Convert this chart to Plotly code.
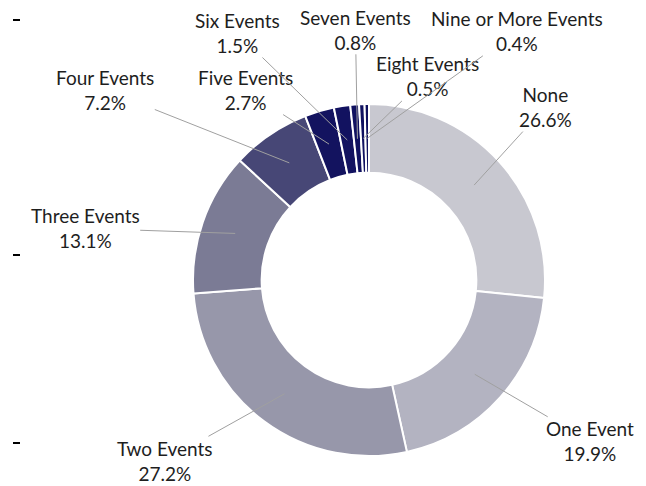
import math
import plotly.graph_objects as go

# events per person, share of respondents (%)
labels = ['None', 'One Event', 'Two Events', 'Three Events', 'Four Events',
          'Five Events', 'Six Events', 'Seven Events', 'Eight Events',
          'Nine or More Events']
shares = [26.6, 19.9, 27.2, 13.1, 7.2, 2.7, 1.5, 0.8, 0.5, 0.4]
colors = ['#C8C8D0', '#B3B3C1', '#9797AA', '#7B7B95', '#474776',
          '#13135F', '#121260', '#101160', '#101160', '#10115E']

# label offsets from the slice midpoint (px), tuned by eye
label_dx = [71, 115, -120, -150, -184, -84, -110, -2, 64, 150]
label_dy = [-78, 67, 67, -5, -73, -54, -107, -109, -62, -107]

# page has an 8px body margin, so the figure is shifted by that much
OFF = 8
W, H = 646 - OFF, 486 - OFF
cx, cy = 369 - OFF, 280 - OFF   # donut centre in px
r_out, hole = 176, 0.61
r_mid = r_out * (1 + hole) / 2

fig = go.Figure()
fig.add_trace(go.Pie(
    labels=labels, values=shares, sort=False, direction='clockwise',
    rotation=0, hole=hole, textinfo='none', hoverinfo='label+percent',
    marker=dict(colors=colors, line=dict(color='white', width=2)),
    domain=dict(x=[(cx - r_out) / W, (cx + r_out) / W],
                y=[1 - (cy + r_out) / H, 1 - (cy - r_out) / H]),
    showlegend=False,
))

# invisible trace so the left axis ticks get drawn
fig.add_trace(go.Scatter(x=[0], y=[0], mode='markers',
                         marker=dict(opacity=0), hoverinfo='skip',
                         showlegend=False))

total = sum(shares)
cum = 0
annotations = []
for lab, val, dx, dy in zip(labels, shares, label_dx, label_dy):
    mid = (cum + val / 2) / total * 2 * math.pi
    cum += val
    px_x = cx + r_mid * math.sin(mid)
    px_y = cy - r_mid * math.cos(mid)
    annotations.append(dict(
        x=px_x / W, y=1 - px_y / H, xref='paper', yref='paper',
        text=f'{lab}<br>{val:.1f}%', showarrow=True, arrowhead=0,
        arrowwidth=1, arrowcolor='#A0A0A0', ax=dx, ay=dy, borderpad=0,
        font=dict(family='Lato', size=19, color='#1E1E1E'),
        align='center',
    ))

fig.update_layout(
    width=W, height=H,
    margin=dict(l=0, r=0, t=0, b=0),
    paper_bgcolor='white', plot_bgcolor='white',
    font=dict(family='Lato', size=19, color='#1E1E1E'),
    annotations=annotations,
    xaxis=dict(domain=[(21 - OFF) / W, 1], range=[0, 1], visible=True,
               showgrid=False, zeroline=False, showline=False,
               showticklabels=False, ticks=''),
    yaxis=dict(domain=[0, 1], range=[486, OFF], showgrid=False,
               zeroline=False, showline=False, showticklabels=False,
               ticks='outside', ticklen=7, tickwidth=2, tickcolor='black',
               tickvals=[20, 255, 443]),
)

fig.write_html("out.html")
